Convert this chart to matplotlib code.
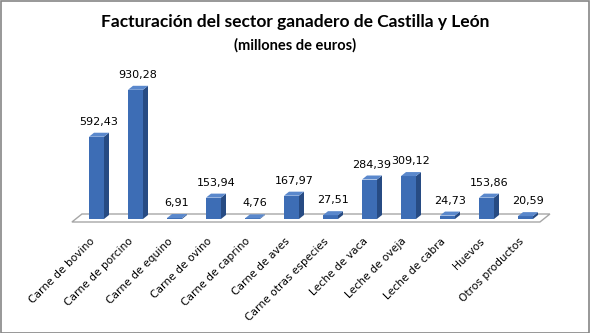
import matplotlib.pyplot as plt
from matplotlib.patches import Polygon, Rectangle

categorias = ['Carne de bovino', 'Carne de porcino', 'Carne de equino', 'Carne de ovino',
              'Carne de caprino', 'Carne de aves', 'Carne otras especies', 'Leche de vaca',
              'Leche de oveja', 'Leche de cabra', 'Huevos', 'Otros productos']
valores = [592.43, 930.28, 6.91, 153.94, 4.76, 167.97, 27.51, 284.39, 309.12, 24.73, 153.86, 20.59]

titulo = 'Facturación del sector ganadero de Castilla y León'
subtitulo = '(millones de euros)'

# pixel scale: 39 px per bar, 7.2 euros per px
PX_X = 1 / 39
PX_Y = 7.2

fig = plt.figure(figsize=(5.9, 3.33), dpi=100)
ax = fig.add_axes([0, 0, 1, 1])
ax.set_xlim(-96.5 * PX_X, (590 - 96.5) * PX_X)
ax.set_ylim(-114 * PX_Y, (333 - 114) * PX_Y)
ax.axis('off')

# floor
fl, fr = -0.63, 11.37
f_front, f_back = -3 * PX_Y, 5 * PX_Y
f_dx = 10 * PX_X
ax.add_patch(Polygon([(fl, f_front), (fr, f_front), (fr + f_dx, f_back), (fl + f_dx, f_back)],
                     closed=True, facecolor='white', edgecolor='#a6a6a6', lw=1, zorder=1))

w = 15 * PX_X
dx = 5 * PX_X
dy = 4 * PX_Y
front_c, side_c, top_c = '#3d6db5', '#274b83', '#5a88cc'

xs = list(range(len(valores)))
ax.bar(xs, valores, width=w, color=front_c, edgecolor='none', zorder=3)
for i, v in zip(xs, valores):
    r = i + w / 2
    l = i - w / 2
    ax.add_patch(Polygon([(r, 0), (r + dx, dy), (r + dx, v + dy), (r, v)],
                         closed=True, facecolor=side_c, edgecolor='none', zorder=3))
    ax.add_patch(Polygon([(l, v), (r, v), (r + dx, v + dy), (l + dx, v + dy)],
                         closed=True, facecolor=top_c, edgecolor='none', zorder=3))
    ax.text(i + dx / 2, v + dy + 6 * PX_Y, f'{v:.2f}'.replace('.', ','),
            ha='center', va='bottom', fontsize=8, color='black', zorder=4)
    ax.text(i, -17 * PX_Y, categorias[i], rotation=45, ha='right', va='top',
            fontsize=7.7, color='black')

fig.text(0.5, 1 - 22 / 333, titulo, ha='center', va='center',
         fontsize=12.5, fontweight='bold', family='Lato')
fig.text(0.5, 1 - 45 / 333, subtitulo, ha='center', va='center',
         fontsize=10.5, fontweight='bold', family='Lato')

fig.patches.append(Rectangle((0.001, 0.001), 0.997, 0.996, transform=fig.transFigure,
                             fill=False, edgecolor='#868686', lw=1.2))

fig.savefig('out.png', dpi=100)
